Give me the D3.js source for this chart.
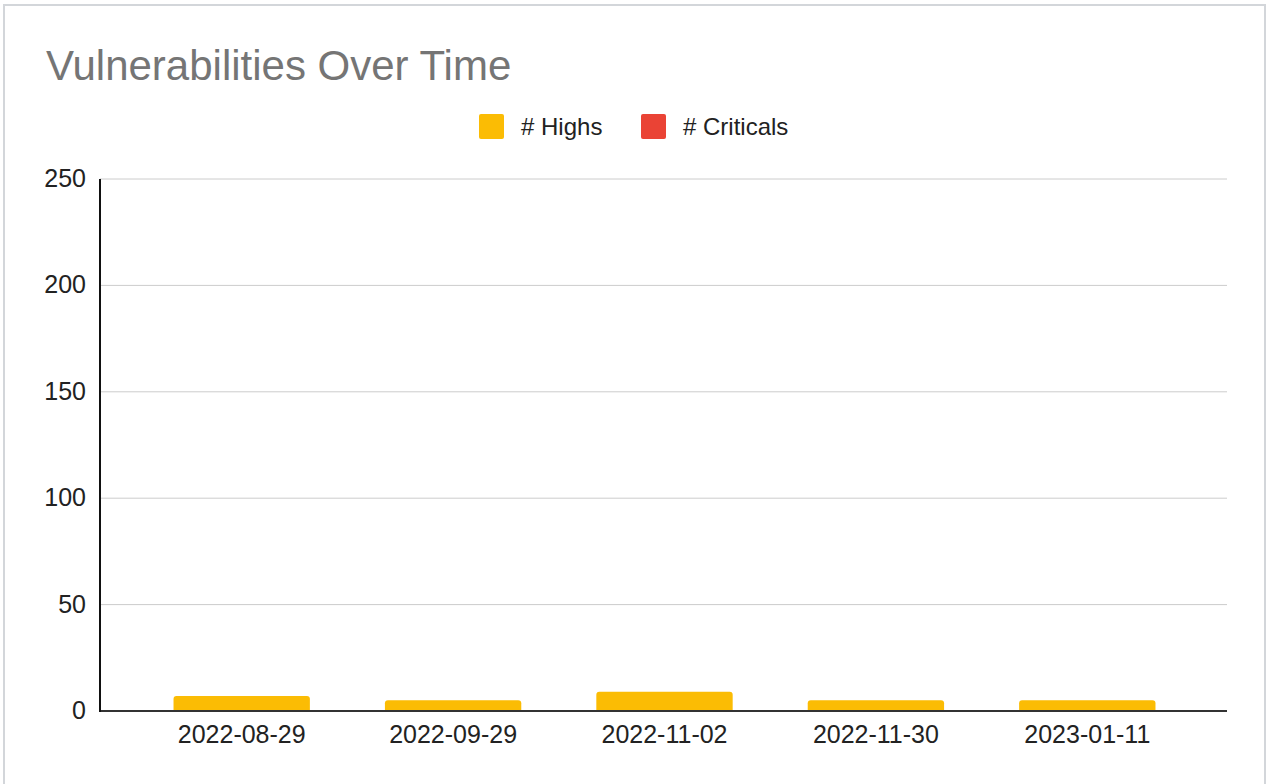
<!DOCTYPE html>
<html>
<head>
<meta charset="utf-8">
<script src="https://cdn.jsdelivr.net/npm/d3@7"></script>
<style>
  html, body { margin: 0; padding: 0; background: #fff; }
  svg { display: block; font-family: "Liberation Sans", Arial, sans-serif; }
</style>
</head>
<body>
<svg id="chart" width="1267" height="784"></svg>
<script>
// Scan dates and vulnerability counts per severity
const dates = ["2022-08-29", "2022-09-29", "2022-11-02", "2022-11-30", "2023-01-11"];
const highs = [7, 5, 9, 5, 5];
const criticals = [0, 0, 0, 0, 0];
const yTicks = [0, 50, 100, 150, 200, 250];
const seriesNames = ["# Highs", "# Criticals"];
const seriesColors = ["#FBBC04", "#EA4335"];

const svg = d3.select("#chart");
const labelFont = "'Liberation Sans', Arial, sans-serif";

// Outer frame
svg.append("rect")
  .attr("x", 4).attr("y", 5).attr("width", 1261).attr("height", 790)
  .attr("fill", "#fff").attr("stroke", "#d3d6da").attr("stroke-width", 2);

// Title
svg.append("text")
  .attr("x", 46).attr("y", 80)
  .attr("font-size", 42).attr("fill", "#757575")
  .text("Vulnerabilities Over Time");

// Plot geometry
const plotLeft = 100, plotRight = 1227, plotTop = 179, plotBottom = 711;

const y = d3.scaleLinear().domain([0, 250]).range([plotBottom, plotTop]);
const x = d3.scaleBand().domain(dates).range([136, 1193]).paddingInner(0.355).paddingOuter(0.1775);

// Gridlines
svg.append("g").selectAll("line")
  .data(yTicks.filter(d => d > 0))
  .join("line")
  .attr("x1", plotLeft).attr("x2", plotRight)
  .attr("y1", d => y(d)).attr("y2", d => y(d))
  .attr("stroke", "#cccccc").attr("stroke-width", 1);

// Y axis tick labels
const yAxis = d3.axisLeft(y).tickValues(yTicks).tickSize(0).tickPadding(14);
const gy = svg.append("g").attr("transform", `translate(${plotLeft},0)`).call(yAxis);
gy.select(".domain").remove();
gy.selectAll("text")
  .attr("font-size", 25).attr("fill", "#222")
  .attr("dy", "0.3em")
  .attr("font-family", labelFont);

// Stacked bars with rounded tops
const stackData = dates.map((d, i) => ({ date: d, h: highs[i], c: criticals[i] }));
const stack = d3.stack().keys(["h", "c"])(stackData);

function roundedTop(x0, y0, w, h, r) {
  r = Math.min(r, h, w / 2);
  return `M${x0},${y0 + h}V${y0 + r}Q${x0},${y0} ${x0 + r},${y0}H${x0 + w - r}Q${x0 + w},${y0} ${x0 + w},${y0 + r}V${y0 + h}Z`;
}

stack.forEach((layer, si) => {
  svg.append("g").selectAll("path")
    .data(layer.filter(d => d[1] - d[0] > 0))
    .join("path")
    .attr("fill", seriesColors[si])
    .attr("d", d => {
      const x0 = x(d.data.date), w = x.bandwidth();
      const yTop = y(d[1]), yBot = y(d[0]);
      return roundedTop(x0, yTop, w, yBot - yTop, 3);
    });
});

// X axis
const xAxis = d3.axisBottom(x).tickSize(0).tickPadding(14);
const gx = svg.append("g").attr("transform", `translate(0,${plotBottom})`).call(xAxis);
gx.select(".domain").remove();
gx.selectAll("text")
  .attr("font-size", 25).attr("fill", "#222")
  .attr("font-family", labelFont);

// Baseline and vertical axis line
svg.append("line")
  .attr("x1", plotLeft).attr("x2", plotRight)
  .attr("y1", y(0)).attr("y2", y(0))
  .attr("stroke", "#333").attr("stroke-width", 2);
svg.append("line")
  .attr("x1", plotLeft).attr("x2", plotLeft)
  .attr("y1", plotTop).attr("y2", y(0) + 1)
  .attr("stroke", "#111").attr("stroke-width", 2);

// Legend
const legendItems = [
  { name: seriesNames[0], color: seriesColors[0], x: 479 },
  { name: seriesNames[1], color: seriesColors[1], x: 641 }
];
const lg = svg.append("g").selectAll("g").data(legendItems).join("g")
  .attr("transform", d => `translate(${d.x},114)`);
lg.append("rect")
  .attr("width", 25).attr("height", 25).attr("rx", 2)
  .attr("fill", d => d.color);
lg.append("text")
  .attr("x", 42).attr("y", 21)
  .attr("font-size", 24).attr("fill", "#222")
  .text(d => d.name);
</script>
</body>
</html>
